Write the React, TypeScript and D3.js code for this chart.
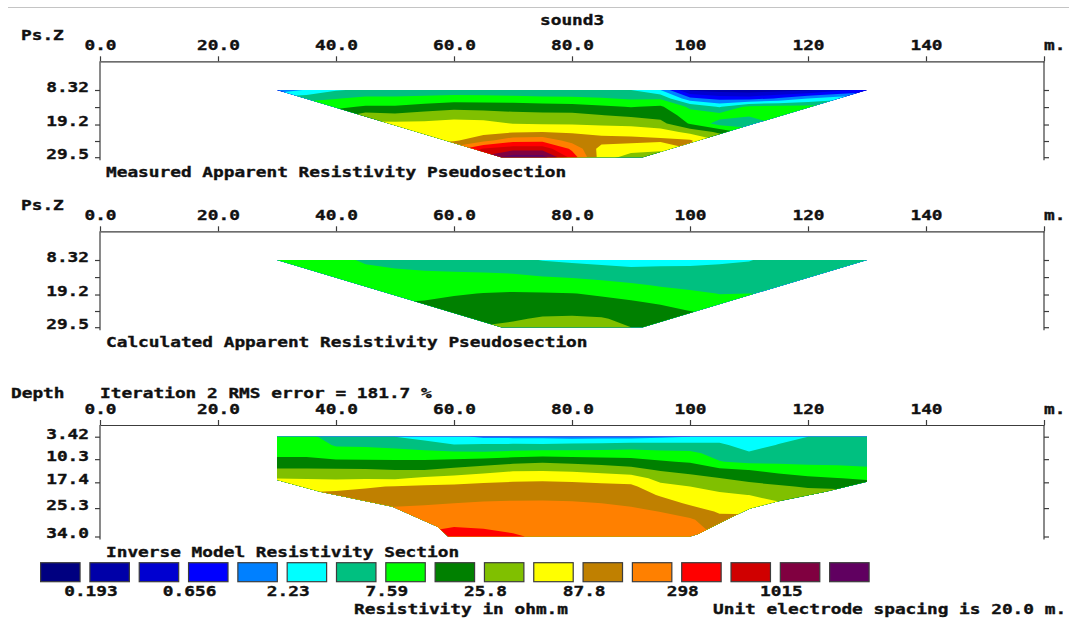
import React, { useEffect, useRef } from 'react';
import * as d3 from 'd3';

// legend colour scale (17 classes, log steps) and its labels
const legendColors = ['#000080', '#0000a8', '#0000d0', '#0000ff', '#0080ff', '#00ffff', '#00c080', '#00ff00', '#008000', '#80c000', '#ffff00', '#c08000', '#ff8000', '#ff0000', '#d00000', '#800040', '#600060'];
const legendLabels = ['0.193', '0.656', '2.23', '7.59', '25.8', '87.8', '298', '1015'];

const distanceTicks = [0, 20, 40, 60, 80, 100, 120, 140, 160];
const distanceLabels = ['0.0', '20.0', '40.0', '60.0', '80.0', '100', '120', '140', ''];

const pseudoDepthTicks = [8.32, 13.7, 19.2, 24.4, 29.5];
const pseudoDepthLabels = ['8.32', '', '19.2', '', '29.5'];
const modelDepthTicks = [3.42, 10.3, 17.4, 25.3, 34.0];
const modelDepthLabels = ['3.42', '10.3', '17.4', '25.3', '34.0'];

// grid columns (m) and rows (depth) where the sections were read
const gridX = [30, 35, 40, 45, 50, 55, 60, 65, 70, 75, 80, 85, 90, 95, 100, 105, 110, 115, 120, 125, 130];
const pseudoRowDepths = [8.32, 10.97, 13.62, 16.26, 18.91, 21.56, 24.21, 26.85, 29.5];
const modelRowDepths = [3.42, 5.97, 8.52, 11.07, 13.61, 16.16, 18.71, 21.26, 23.81, 26.35, 28.9, 31.45, 34.0];

// values are positions on the legend's colour scale (1 = 0.193, 3 = 0.656, ... 15 = 1015 ohm.m)
const measured = [
  [4.3, 5.1, 5.9, 6.2, 6.15, 6.2, 6.3, 6.25, 6.1, 6.05, 6.0, 6.0, 6.0, 5.0, 1.8, 1.5, 1.4, 1.5, 1.8, 2.6, 3.2],
  [6.5, 6.6, 6.95, 7.25, 7.24, 7.35, 7.5, 7.45, 7.4, 7.3, 7.26, 7.1, 6.85, 6.85, 4.3, 3.6, 3.5, 4.1, 5.0, 5.6, 5.8],
  [7.8, 7.8, 7.8, 8.1, 8.11, 8.37, 8.6, 8.6, 8.55, 8.45, 8.37, 8.18, 7.95, 8.15, 6.8, 5.9, 7.3, 7.4, 7.4, 7.4, 7.3],
  [8.8, 8.8, 8.6, 9.4, 9.23, 9.5, 9.7, 9.53, 9.3, 9.25, 9.27, 9.02, 8.8, 8.65, 7.5, 7.4, 7.1, 7.3, 7.4, 7.4, 7.4],
  [9.8, 9.8, 9.6, 10.2, 10.2, 10.2, 10.27, 10.3, 9.97, 9.93, 9.9, 9.8, 9.7, 9.3, 7.9, 6.6, 6.5, 7.1, 7.4, 7.5, 7.5],
  [10.6, 10.5, 10.4, 10.8, 10.7, 10.5, 10.6, 10.6, 10.92, 11.0, 10.9, 10.67, 10.65, 10.5, 9.7, 8.8, 7.5, 7.6, 7.8, 8.0, 8.0],
  [11.2, 11.2, 11.1, 11.3, 11.2, 10.8, 10.85, 11.7, 12.6, 12.7, 11.6, 11.4, 11.3, 11.2, 11.1, 10.0, 8.5, 8.2, 8.5, 8.5, 8.5],
  [11.8, 11.8, 11.7, 11.8, 11.7, 11.5, 12.5, 14.1, 14.6, 14.6, 12.8, 10.6, 10.4, 10.2, 11.0, 10.5, 9.5, 9.0, 9.2, 9.0, 9.0],
  [12.3, 12.3, 12.3, 12.3, 12.2, 12.5, 13.5, 15.2, 16.6, 16.5, 13.6, 10.5, 9.6, 9.5, 11.5, 11.0, 10.0, 9.8, 9.8, 9.5, 9.5],
];

const calculated = [
  [7.3, 7.3, 7.2, 6.9, 6.5, 6.45, 6.4, 6.35, 6.3, 5.95, 5.8, 5.65, 5.5, 5.55, 5.65, 5.8, 5.95, 6.3, 6.4, 6.4, 6.4],
  [7.5, 7.5, 7.45, 7.1, 7.0, 6.9, 6.85, 6.8, 6.75, 6.5, 6.35, 6.25, 6.1, 6.15, 6.15, 6.2, 6.25, 6.45, 6.5, 6.5, 6.5],
  [7.7, 7.7, 7.7, 7.4, 7.35, 7.25, 7.22, 7.2, 7.15, 7.02, 6.92, 6.8, 6.6, 6.55, 6.5, 6.45, 6.45, 6.6, 6.6, 6.6, 6.6],
  [7.9, 7.9, 7.9, 7.6, 7.6, 7.5, 7.5, 7.6, 7.6, 7.55, 7.45, 7.3, 7.15, 6.92, 6.8, 6.7, 6.7, 6.75, 6.75, 6.7, 6.7],
  [8.1, 8.1, 8.1, 7.8, 7.8, 7.75, 7.9, 8.03, 8.1, 8.07, 8.03, 7.85, 7.6, 7.35, 7.15, 6.98, 7.0, 6.95, 6.9, 6.85, 6.8],
  [8.3, 8.3, 8.3, 8.0, 7.98, 8.05, 8.25, 8.3, 8.35, 8.4, 8.35, 8.3, 8.1, 7.85, 7.55, 7.3, 7.3, 7.2, 7.1, 7.0, 7.0],
  [8.5, 8.5, 8.5, 8.3, 8.3, 8.35, 8.55, 8.55, 8.6, 8.75, 8.75, 8.65, 8.45, 8.3, 7.97, 7.7, 7.6, 7.5, 7.4, 7.3, 7.2],
  [8.7, 8.7, 8.7, 8.6, 8.6, 8.6, 8.85, 8.8, 8.9, 9.1, 9.15, 9.08, 8.75, 8.6, 8.4, 8.1, 8.0, 7.9, 7.8, 7.7, 7.6],
  [8.9, 8.9, 8.9, 8.9, 8.9, 8.9, 9.1, 9.05, 9.2, 9.4, 9.45, 9.4, 9.0, 8.9, 8.8, 8.5, 8.4, 8.3, 8.2, 8.1, 8.0],
];

const model = [
  [7.2, 7.25, 6.6, 6.55, 6.0, 5.6, 5.3, 4.8, 4.75, 4.7, 4.6, 4.6, 4.6, 4.8, 5.0, 5.5, 5.3, 5.65, 6.0, 6.2, 6.2],
  [7.5, 7.55, 6.9, 6.85, 6.7, 6.45, 6.05, 6.15, 6.2, 6.2, 6.3, 6.4, 6.5, 6.45, 6.4, 6.2, 5.55, 6.05, 6.25, 6.35, 6.35],
  [7.8, 7.8, 7.5, 7.45, 7.4, 7.33, 7.25, 7.2, 7.35, 7.45, 7.42, 7.4, 7.45, 7.3, 7.25, 6.6, 6.12, 6.43, 6.5, 6.55, 6.5],
  [8.25, 8.25, 8.17, 8.15, 8.15, 8.17, 8.3, 8.5, 8.7, 8.85, 8.75, 8.6, 8.45, 8.1, 7.9, 7.05, 6.75, 6.8, 6.8, 6.8, 6.75],
  [9.15, 9.15, 9.14, 9.1, 9.0, 9.0, 9.25, 9.5, 9.85, 9.9, 9.8, 9.6, 9.35, 8.9, 8.65, 8.27, 7.99, 7.64, 7.35, 7.25, 7.15],
  [9.98, 9.95, 9.9, 9.9, 9.85, 10.2, 10.4, 10.65, 10.75, 10.8, 10.75, 10.65, 10.5, 9.65, 9.35, 9.02, 8.7, 8.48, 8.2, 8.03, 7.85],
  [10.5, 10.6, 10.65, 10.9, 11.05, 11.15, 11.2, 11.28, 11.33, 11.35, 11.3, 11.25, 11.2, 10.3, 10.0, 9.66, 9.35, 9.12, 8.9, 8.8, 8.6],
  [11.0, 11.2, 11.3, 11.35, 11.45, 11.5, 11.6, 11.7, 11.78, 11.8, 11.7, 11.65, 11.55, 10.9, 10.45, 10.18, 9.99, 9.6, 9.55, 9.5, 9.3],
  [11.5, 11.6, 11.8, 11.7, 11.85, 11.9, 12.0, 12.08, 12.1, 12.1, 12.1, 12.0, 11.85, 11.45, 10.85, 10.55, 10.5, 10.1, 10.0, 10.0, 9.9],
  [12.0, 12.0, 12.2, 12.1, 12.2, 12.3, 12.35, 12.4, 12.35, 12.3, 12.35, 12.3, 12.2, 11.98, 11.45, 10.9, 10.9, 10.5, 10.4, 10.4, 10.3],
  [12.4, 12.4, 12.6, 12.5, 12.6, 12.55, 12.7, 12.7, 12.6, 12.5, 12.55, 12.5, 12.45, 12.3, 12.15, 11.3, 11.2, 10.9, 10.7, 10.7, 10.6],
  [12.8, 12.8, 13.0, 12.9, 12.9, 12.85, 13.05, 12.98, 12.85, 12.7, 12.7, 12.7, 12.65, 12.5, 12.4, 11.6, 11.5, 11.2, 11.0, 11.0, 10.9],
  [13.2, 13.2, 13.4, 13.3, 13.3, 13.2, 13.4, 13.35, 13.1, 12.85, 12.85, 12.85, 12.8, 12.7, 12.6, 11.9, 11.8, 11.5, 11.3, 11.3, 11.2],
];

// outlines of the sections, [distance m, depth]
const pseudoOutline = [[30, 8.32], [130, 8.32], [92, 29.5], [68, 29.5]];
const modelOutline = [[30, 3.42], [130, 3.42], [130, 17.2], [123, 20.3], [114.8, 23.3], [110.2, 25.4], [107.3, 27.9], [101.4, 33.2], [100, 34], [59, 34], [57.2, 31], [49.6, 24.9], [37.3, 20.3], [30, 16.7]];

const CH = 10.7; // character cell of the bitmap-like font
const AXIS = '#3c3c3c';

const App = () => {
  const svgRef = useRef(null);

  useEffect(() => {
    const svg = d3.select(svgRef.current);
    svg.selectAll('*').remove();

    const label = (g, txt, xx, yy, anchor = 'start') => {
      const t = g.append('text').attr('x', xx).attr('y', yy).attr('text-anchor', anchor).text(txt);
      if (txt.length) t.attr('textLength', txt.length * CH).attr('lengthAdjust', 'spacingAndGlyphs');
      return t;
    };

    const x = d3.scaleLinear().domain([0, 160]).range([100, 1044]);

    // top grey rule and title
    svg.append('line').attr('x1', 8).attr('x2', 1069).attr('y1', 7.5).attr('y2', 7.5)
      .attr('stroke', '#c4c4c4').attr('stroke-width', 1);
    label(svg, 'sound3', 540, 24.5);

    const sections = [
      { grid: measured, rows: pseudoRowDepths, outline: pseudoOutline, axisY: 61.3, top: 90, bottom: 157.2,
        ticks: pseudoDepthTicks, tickLabels: pseudoDepthLabels, corner: 'Ps.Z', cornerY: 40,
        title: 'Measured Apparent Resistivity Pseudosection', titleY: 177 },
      { grid: calculated, rows: pseudoRowDepths, outline: pseudoOutline, axisY: 231.3, top: 260, bottom: 327.2,
        ticks: pseudoDepthTicks, tickLabels: pseudoDepthLabels, corner: 'Ps.Z', cornerY: 210,
        title: 'Calculated Apparent Resistivity Pseudosection', titleY: 347 },
      { grid: model, rows: modelRowDepths, outline: modelOutline, axisY: 425, top: 436.7, bottom: 536.5,
        ticks: modelDepthTicks, tickLabels: modelDepthLabels, corner: 'Depth', cornerY: 398,
        title: 'Inverse Model Resistivity Section', titleY: 556.5 },
    ];

    const defs = svg.append('defs');

    sections.forEach((s, si) => {
      const rows = s.rows;
      const y = d3.scaleLinear().domain([rows[0], rows[rows.length - 1]]).range([s.top, s.bottom]);
      const g = svg.append('g');

      // filled contour bands
      const nx = gridX.length;
      const ny = s.grid.length;
      const colAt = d3.scaleLinear().domain([0, nx - 1]).range([gridX[0], gridX[nx - 1]]);
      const rowAt = d3.scaleLinear().domain([0, ny - 1]).range([rows[0], rows[ny - 1]]);
      const bands = d3.contours().size([nx, ny]).thresholds(d3.range(0, 17))(s.grid.flat());
      const proj = d3.geoTransform({
        point(u, v) {
          this.stream.point(x(colAt(u - 0.5)), y(rowAt(v - 0.5)));
        },
      });
      const path = d3.geoPath(proj);

      const clipId = `section-clip-${si}`;
      defs.append('clipPath').attr('id', clipId).append('polygon')
        .attr('points', s.outline.map(([m, d]) => `${x(m)},${y(d)}`).join(' '));

      g.append('g').attr('clip-path', `url(#${clipId})`)
        .selectAll('path').data(bands).join('path')
        .attr('d', path)
        .attr('fill', (d) => legendColors[d.value])
        .attr('fill-rule', 'evenodd');

      // axes
      const topAxis = d3.axisTop(x).tickValues(distanceTicks).tickSize(5).tickSizeOuter(0)
        .tickPadding(6.3).tickFormat((d, i) => distanceLabels[i]);
      const ta = g.append('g').attr('transform', `translate(0,${s.axisY})`).call(topAxis);
      const leftAxis = d3.axisLeft(y).tickValues(s.ticks).tickSize(5).tickPadding(6)
        .tickFormat((d, i) => s.tickLabels[i]);
      const la = g.append('g').attr('transform', 'translate(100,0)').call(leftAxis);
      const rightAxis = d3.axisRight(y).tickValues(s.ticks).tickSize(5).tickFormat(() => '');
      const ra = g.append('g').attr('transform', 'translate(1044,0)').call(rightAxis);

      [ta, la, ra].forEach((a) => {
        a.attr('font-family', null).attr('font-size', null).attr('color', AXIS);
        a.selectAll('line').attr('stroke-width', 1.2);
        a.selectAll('path').attr('stroke-width', 1.2);
        a.selectAll('text').attr('fill', '#111').each(function () {
          const t = d3.select(this);
          const txt = t.text();
          if (txt.length) t.attr('textLength', txt.length * CH).attr('lengthAdjust', 'spacingAndGlyphs');
        });
      });
      la.select('.domain').remove();
      ra.select('.domain').remove();
      la.selectAll('text').attr('dy', '0.1em');

      const axisBottom = s.bottom + 3;
      g.append('line').attr('x1', 100).attr('x2', 100).attr('y1', s.axisY).attr('y2', axisBottom)
        .attr('stroke', AXIS).attr('stroke-width', 1.2);
      g.append('line').attr('x1', 1044).attr('x2', 1044).attr('y1', s.axisY).attr('y2', axisBottom)
        .attr('stroke', AXIS).attr('stroke-width', 1.2);

      label(g, 'm.', 1044, s.axisY - 11.3);
      label(g, s.corner, s.corner === 'Depth' ? 11 : 21, s.cornerY);
      label(g, s.title, 106, s.titleY);
    });

    label(svg, 'Iteration 2 RMS error = 181.7 %', 100, 398);

    // legend
    const band = d3.scaleBand().domain(d3.range(legendColors.length)).range([40.6, 869.1])
      .paddingInner(0.2).paddingOuter(0);
    const lg = svg.append('g');
    lg.selectAll('rect').data(legendColors).join('rect')
      .attr('x', (d, i) => band(i))
      .attr('y', 562.7)
      .attr('width', band.bandwidth())
      .attr('height', 19)
      .attr('fill', (d) => d)
      .attr('stroke', AXIS)
      .attr('stroke-width', 1.2);
    legendLabels.forEach((l, j) => {
      const gapMid = band(2 * j) + band.bandwidth() + (band.step() - band.bandwidth()) / 2;
      label(lg, l, gapMid + 6, 596, 'middle');
    });
    label(lg, 'Resistivity in ohm.m', 354, 614);
    label(lg, 'Unit electrode spacing is 20.0 m.', 713, 614);

    // heavier glyphs, closer to the bitmap font
    svg.selectAll('text').attr('stroke', '#111').attr('stroke-width', 0.35);
  }, []);

  return (
    <svg
      ref={svgRef}
      width={1069}
      height={622}
      style={{ position: 'absolute', left: 0, top: 0, background: '#fff' }}
      fontFamily="'DejaVu Sans Mono', monospace"
      fontWeight="bold"
      fontSize={14}
      fill="#111"
    />
  );
};

export default App;
